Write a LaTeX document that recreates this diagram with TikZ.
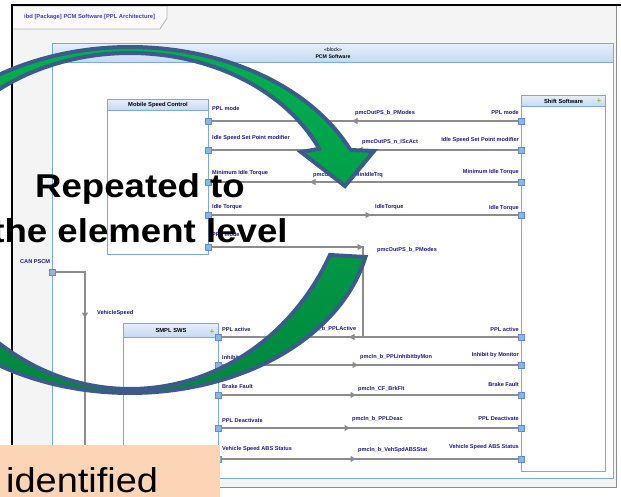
\documentclass[tikz,border=0pt]{standalone}
\usepackage{fontspec}
\setmainfont{Liberation Sans}
\usetikzlibrary{arrows.meta, decorations.markings}

\definecolor{framegray}{HTML}{F4F4F4}
\definecolor{tabfill}{HTML}{FAFAFA}
\definecolor{tabline}{HTML}{B4B4B4}
\definecolor{blkblue}{HTML}{7EA8DA}
\definecolor{hdrtop}{HTML}{E6EFFA}
\definecolor{hdrbot}{HTML}{C4D9F0}
\definecolor{portfill}{HTML}{8DB5E4}
\definecolor{portedge}{HTML}{5C8FD0}
\definecolor{conngray}{HTML}{8C8C8C}
\definecolor{lblnavy}{HTML}{1B1B85}
\definecolor{tabblue}{HTML}{3C3CD2}
\definecolor{arrowedge}{HTML}{3B5C8B}
\definecolor{greentop}{HTML}{00B050}
\definecolor{greenbot}{HTML}{00873D}
\definecolor{peach}{HTML}{FBD5B5}
\definecolor{plusgreen}{HTML}{8CC43C}

\newcommand\lblfont{\fontsize{5.6}{6.5}\selectfont\bfseries}
\newcommand\hdrfont{\fontsize{5.8}{6.5}\selectfont\bfseries}
\newcommand\bigfont{\fontsize{33}{40}\selectfont\bfseries}

\begin{document}
\begin{tikzpicture}[x=1pt, y=-1pt,
  blockbox/.style={draw=blkblue, line width=1pt, fill=white, inner sep=0pt, anchor=north west},
  hdr/.style={draw=blkblue, line width=1pt, top color=hdrtop, bottom color=hdrbot,
    inner sep=0pt, anchor=north west, font=\hdrfont},
  port/.style={draw=portedge, fill=portfill, line width=0.6pt, minimum size=6pt, inner sep=0pt},
  conn/.style={draw=conngray, line width=1.4pt},
  lbl/.style={font=\lblfont, text=lblnavy, inner sep=0pt},
  lblw/.style={lbl, anchor=west},
  lble/.style={lbl, anchor=east},
  plusicon/.style={font=\fontsize{8}{8}\selectfont\bfseries, text=plusgreen, inner sep=0pt},
  flowmark/.style={postaction={decorate, decoration={markings,
      mark=at position #1 with {\fill[conngray] (2.8,0) -- (-2.8,3.2) -- (-2.8,-3.2) -- cycle;}}}}
]
\path[use as bounding box] (0,0) rectangle (621,496);
\clip (0,0) rectangle (621,496);

% diagram frame and name tab
\fill[white] (0,0) rectangle (621,496);
\fill[framegray] (12,5) rectangle (616,487);
\draw[tabline, fill=tabfill, line width=0.8pt] (13,6) -- (167,6) -- (167,18) -- (160,29) -- (13,29);
\node[anchor=west, inner sep=0pt, text=tabblue, font=\fontsize{5.8}{6.5}\selectfont\bfseries] (tab) at (24,17)
  {ibd [Package] PCM Software [PPL Architecture]};
\draw[black!45, line width=0.8pt] (616,5) -- (616,487) -- (12,487);
\draw[black, line width=1.3pt] (12,496) -- (12,5) -- (621,5);

% enclosing block
\node[blockbox, minimum width=561pt, minimum height=435pt] (pcm) at (52,43) {};
\node[hdr, minimum width=561pt, minimum height=19pt, align=center,
  font=\fontsize{5.2}{6.6}\selectfont\bfseries] (pcmh) at (52,43) {\textmd{«block»}\\PCM Software};

% part blocks
\node[blockbox, minimum width=101pt, minimum height=155pt] (msc) at (107,99) {};
\node[hdr, minimum width=101pt, minimum height=11pt] (msch) at (107,99) {Mobile Speed Control};

\node[blockbox, minimum width=84pt, minimum height=376pt] (sft) at (521,95) {};
\node[hdr, minimum width=84pt, minimum height=11pt] (sfth) at (521,95) {Shift Software};
\node[plusicon] (sftplus) at (599,101) {+};

\node[blockbox, minimum width=95pt, minimum height=148pt] (mpl) at (123,323) {};
\node[hdr, minimum width=95pt, minimum height=14pt] (mplh) at (123,323) {SMPL SWS};
\node[plusicon] (mplplus) at (212,332) {+};

% ports
\foreach \n/\y in {1/121, 2/150, 3/182, 4/215, 5/247}
  \node[port] (m\n) at (208,\y) {};
\foreach \n/\y in {1/121, 2/150, 3/182, 4/215, 6/337, 7/365, 8/395, 9/428, 10/459}
  \node[port] (r\n) at (521,\y) {};
\foreach \n/\y in {6/337, 7/365, 8/395, 9/428, 10/459}
  \node[port] (p\n) at (218,\y) {};
\node[port] (c0) at (52,272) {};
\node[port] (pin) at (123,464) {};
\coordinate (j6) at (363,337);

% connectors
\draw[conn, flowmark=163pt] (r1) -- (m1);
\draw[conn, flowmark=158pt] (r2) -- (m2);
\draw[conn, flowmark=205pt] (r3) -- (m3);
\draw[conn, flowmark=157pt] (m4) -- (r4);
\draw[conn, flowmark=149pt] (m5) -| (j6);
\draw[conn, flowmark=166pt] (r6) -- (p6);
\draw[conn, flowmark=134pt] (p7) -- (r7);
\draw[conn, flowmark=132pt] (p8) -- (r8);
\draw[conn, flowmark=126pt] (p9) -- (r9);
\draw[conn, flowmark=132pt] (p10) -- (r10);
\draw[conn, flowmark=73pt] (c0) -- ++(33,0) |- (pin);

% port labels
\node[lblw] (lm1) at (212,108) {PPL mode};
\node[lblw] (lm2) at (212,138) {Idle Speed Set Point modifier};
\node[lblw] (lm3) at (212,173) {Minimum Idle Torque};
\node[lblw] (lm4) at (212,207) {Idle Torque};
\node[lblw] (lm5) at (212,234) {PPL mode};
\node[lble] (lr1) at (519,112) {PPL mode};
\node[lble] (lr2) at (519,140) {Idle Speed Set Point modifier};
\node[lble] (lr3) at (519,172) {Minimum Idle Torque};
\node[lble] (lr4) at (519,208) {Idle Torque};
\node[lble] (lr6) at (519,329) {PPL active};
\node[lble] (lr7) at (519,355) {Inhibit by Monitor};
\node[lble] (lr8) at (519,384) {Brake Fault};
\node[lble] (lr9) at (519,418) {PPL Deactivate};
\node[lble] (lr10) at (519,447) {Vehicle Speed ABS Status};
\node[lblw] (lp6) at (222,329) {PPL active};
\node[lblw] (lp7) at (222,358) {Inhibit by Monitor};
\node[lblw] (lp8) at (222,386) {Brake Fault};
\node[lblw] (lp9) at (222,420) {PPL Deactivate};
\node[lblw] (lp10) at (222,449) {Vehicle Speed ABS Status};
\node[lblw] (lc0) at (20,262) {CAN PSCM};

% item flow labels
\node[lblw] (f1) at (355,113) {pmcOutPS\_b\_PModes};
\node[lblw] (f2) at (362,142) {pmcOutPS\_n\_IScAct};
\node[lblw] (f3) at (313,175) {pmcOutPS\_Tq\_MinIdleTrq};
\node[lblw] (f4) at (375,207) {IdleTorque};
\node[lblw] (f5) at (377,250) {pmcOutPS\_b\_PModes};
\node[lblw] (f6) at (290,329) {pmcOutPS\_b\_PPLActive};
\node[lblw] (f7) at (360,357) {pmcIn\_b\_PPLInhibitbyMon};
\node[lblw] (f8) at (358,389) {pmcIn\_CF\_BrkFlt};
\node[lblw] (f9) at (352,419) {pmcIn\_b\_PPLDeac};
\node[lblw] (f10) at (358,450) {pmcIn\_b\_VehSpdABSStat};
\node[lblw] (f11) at (97,313) {VehicleSpeed};

% circular arrow laid over the diagram
\path[draw=arrowedge, line width=4pt, line join=miter, miter limit=5,
      top color=greentop, bottom color=greenbot]
  plot[domain=12.35:336.13, samples=160] ({130+241*cos(\x)}, {220+173*sin(\x)})
  -- (374,151) -- (345,186) -- (301,152) -- (319.3,148.9)
  -- plot[domain=335.9:180, samples=100] ({130+207.4*cos(\x)}, {215+162*sin(\x)})
  -- plot[domain=164.22:26.06, samples=100] ({130+222.6*cos(\x)}, {150+239*sin(\x)})
  -- cycle;

% caption text
\node[anchor=base, inner sep=0pt] (rep1) at (140,197) {\bigfont\scalebox{1.11}[1]{Repeated to}};
\node[anchor=base, inner sep=0pt] (rep2) at (140,242) {\bigfont\scalebox{1.11}[1]{the element level}};

% note box
\node[fill=peach, anchor=north west, minimum width=220pt, minimum height=52pt, inner sep=0pt] (idbox) at (0,445) {};
\node[anchor=base west, inner sep=0pt] (idtxt) at (6,492)
  {\fontsize{34.5}{40}\selectfont\scalebox{1.1}[1]{identified}};
\end{tikzpicture}
\end{document}
